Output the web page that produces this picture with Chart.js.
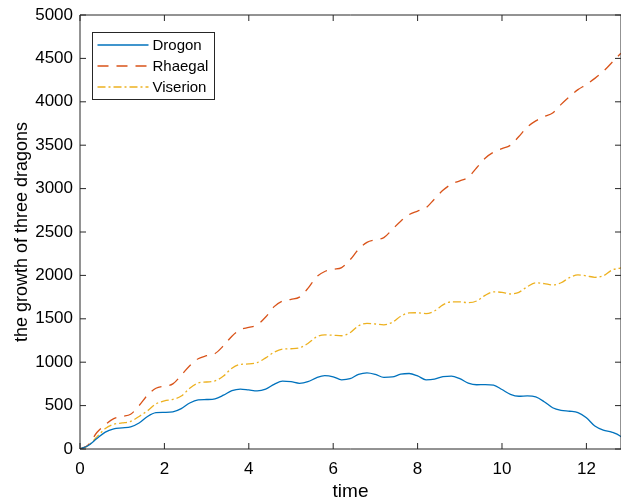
<!DOCTYPE html>
<html>
<head>
<meta charset="utf-8">
<script src="https://cdn.jsdelivr.net/npm/chart.js@4/dist/chart.umd.min.js"></script>
<style>
html,body{margin:0;padding:0;background:#fff;overflow:hidden;}
#wrap{width:621px;height:501px;}
</style>
</head>
<body>
<div id="wrap"><canvas id="c" width="621" height="501"></canvas></div>
<script>
const times = [0,0.2,0.4,0.6,0.8,1.0,1.2,1.4,1.6,1.8,2.0,2.2,2.4,2.6,2.8,3.0,3.2,3.4,3.6,3.8,4.0,4.2,4.4,4.6,4.8,5.0,5.2,5.4,5.6,5.8,6.0,6.2,6.4,6.6,6.8,7.0,7.2,7.4,7.6,7.8,8.0,8.2,8.4,8.6,8.8,9.0,9.2,9.4,9.6,9.8,10.0,10.2,10.4,10.6,10.8,11.0,11.2,11.4,11.6,11.8,12.0,12.2,12.4,12.6,12.8,12.82];
const drogon = [0,40,120,195,232,243,255,300,375,418,422,428,465,530,566,570,578,620,672,690,680,670,690,745,782,775,757,775,820,845,832,797,810,860,878,860,825,830,862,870,842,797,805,835,840,810,760,740,742,735,685,630,608,612,600,545,475,445,435,420,360,265,218,195,150,140];
const rhaegal = [0,50,190,280,350,375,400,500,620,700,725,750,850,960,1040,1075,1100,1190,1300,1375,1400,1430,1520,1640,1705,1725,1750,1850,1980,2045,2070,2090,2180,2300,2380,2410,2435,2530,2625,2700,2740,2780,2880,2980,3050,3090,3130,3240,3350,3420,3460,3500,3600,3710,3780,3830,3870,3970,4060,4140,4200,4270,4350,4450,4550,4560];
const viserion = [0,40,140,235,285,300,318,375,440,520,555,572,610,700,760,772,785,840,930,975,980,995,1050,1115,1150,1155,1165,1215,1290,1315,1310,1305,1340,1420,1448,1440,1430,1460,1530,1568,1570,1560,1590,1660,1695,1695,1686,1705,1770,1810,1805,1786,1805,1870,1915,1905,1890,1915,1975,2005,1995,1978,1995,2060,2085,2088];
const seriesNames = ['Drogon','Rhaegal','Viserion'];
const xTicks = [0,2,4,6,8,10,12];
const yTicks = [0,500,1000,1500,2000,2500,3000,3500,4000,4500,5000];

const colors = ['#0072BD','#D95319','#EDB120'];
const dashes = [[], [11,8], [8,3,2,3]];
const axisColor = '#262626';
const font = 'Liberation Sans, Arial, Helvetica, sans-serif';

function pts(vals){ return times.map((t,i)=>({x:t, y:vals[i]})); }

const boxPlugin = {
  id: 'matlabBox',
  afterDraw(chart){
    const {ctx, chartArea:{left,right,top,bottom}, scales:{x,y}} = chart;
    ctx.save();
    ctx.strokeStyle = axisColor;
    ctx.lineWidth = 1;
    ctx.setLineDash([]);
    ctx.beginPath();
    ctx.rect(left, top, right-left, bottom-top);
    const tl = 6;
    x.ticks.forEach(t=>{
      const px = x.getPixelForValue(t.value);
      ctx.moveTo(px, bottom); ctx.lineTo(px, bottom-tl);
      ctx.moveTo(px, top); ctx.lineTo(px, top+tl);
    });
    y.ticks.forEach(t=>{
      const py = y.getPixelForValue(t.value);
      ctx.moveTo(left, py); ctx.lineTo(left+tl, py);
      ctx.moveTo(right, py); ctx.lineTo(right-tl, py);
    });
    ctx.stroke();

    // legend
    const lx = 92.5, ly = 32.5, lw = 122, lh = 67;
    ctx.fillStyle = '#fff';
    ctx.fillRect(lx, ly, lw, lh);
    ctx.strokeStyle = axisColor;
    ctx.lineWidth = 1;
    ctx.strokeRect(lx, ly, lw, lh);
    const rows = [45, 66, 87];
    chart.data.datasets.forEach((ds, i)=>{
      ctx.strokeStyle = ds.borderColor;
      ctx.lineWidth = ds.borderWidth;
      ctx.setLineDash(ds.borderDash || []);
      ctx.beginPath();
      ctx.moveTo(97.5, rows[i]); ctx.lineTo(148.5, rows[i]);
      ctx.stroke();
      ctx.setLineDash([]);
      ctx.fillStyle = '#000';
      ctx.font = '15px ' + font;
      ctx.textBaseline = 'middle';
      ctx.textAlign = 'left';
      ctx.fillText(ds.label, 152.5, rows[i] + 0.5);
    });
    ctx.restore();
  }
};

new Chart(document.getElementById('c'), {
  type: 'line',
  data: {
    datasets: seriesNames.map((name, i)=>({
      label: name,
      data: pts([drogon, rhaegal, viserion][i]),
      borderColor: colors[i],
      borderWidth: 1.3,
      borderDash: dashes[i],
      pointRadius: 0,
      fill: false,
      cubicInterpolationMode: 'monotone'
    }))
  },
  options: {
    responsive: false,
    animation: false,
    devicePixelRatio: 1,
    layout: { padding: { top: 15, right: 0, bottom: 0, left: 0 } },
    plugins: { legend: { display: false }, tooltip: { enabled: false } },
    scales: {
      x: {
        type: 'linear',
        min: 0, max: 12.82,
        grid: { display: false, drawTicks: false },
        border: { display: false },
        afterBuildTicks: s => { s.ticks = xTicks.map(v=>({value:v})); },
        afterFit: s => { s.height = 52; s.paddingLeft = 0; s.paddingRight = 0; },
        ticks: { padding: 10, color: '#000', font: { family: font, size: 17, lineHeight: 1.2 }, maxRotation: 0, callback: v => String(v) },
        title: { display: true, text: 'time', color: '#000', font: { family: font, size: 19, lineHeight: 1 }, padding: { top: 0, bottom: 0 } }
      },
      y: {
        type: 'linear',
        min: 0, max: 5000,
        grid: { display: false, drawTicks: false },
        border: { display: false },
        afterBuildTicks: s => { s.ticks = yTicks.map(v=>({value:v})); },
        afterFit: s => { s.width = 80; s.paddingTop = 0; s.paddingBottom = 0; },
        ticks: { padding: 7, color: '#000', font: { family: font, size: 17, lineHeight: 1.2 }, callback: v => String(v) },
        title: { display: true, text: 'the growth of three dragons', color: '#000', font: { family: font, size: 18, lineHeight: 1.2 }, padding: { top: 11, bottom: 0 } }
      }
    }
  },
  plugins: [boxPlugin]
});
</script>
</body>
</html>
